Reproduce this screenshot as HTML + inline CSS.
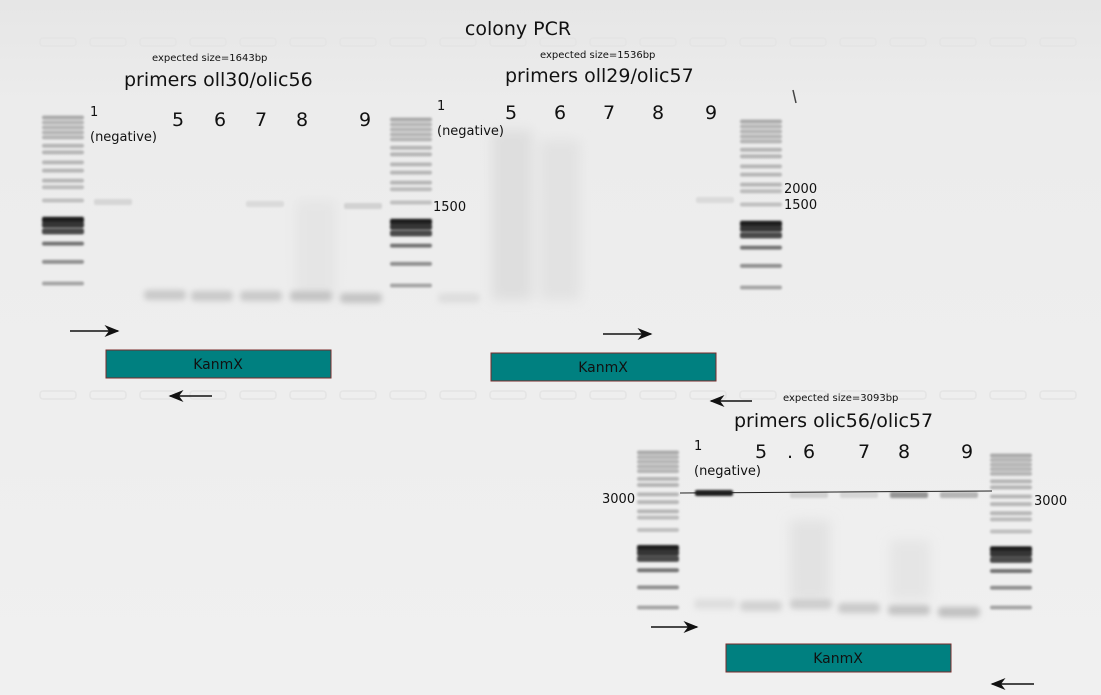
<!DOCTYPE html>
<html><head><meta charset="utf-8"><style>
html,body{margin:0;padding:0;background:#eeeeee;}
svg{display:block;font-family:"DejaVu Sans","Liberation Sans",sans-serif;}
</style></head><body>
<svg id="gel" width="1101" height="695" viewBox="0 0 1101 695" xmlns="http://www.w3.org/2000/svg">
<defs>
<filter id="blur1"><feGaussianBlur stdDeviation="1"/></filter>
<filter id="blur3"><feGaussianBlur stdDeviation="3"/></filter>
<filter id="blur6"><feGaussianBlur stdDeviation="6"/></filter>
<linearGradient id="bg" x1="0" y1="0" x2="0" y2="1"><stop offset="0" stop-color="#e6e6e6"/><stop offset="0.15" stop-color="#ececec"/><stop offset="1" stop-color="#f0f0f0"/></linearGradient>
<marker id="ah" markerWidth="10" markerHeight="8" refX="9" refY="4" orient="auto"><path d="M0,0 L10,4 L0,8 L3,4 Z" fill="#111"/></marker>
</defs>
<rect width="1101" height="695" fill="url(#bg)"/>
<g id="wells"></g>
<g id="vsmears" filter="url(#blur6)"></g>
<g id="ladders" filter="url(#blur1)"></g>
<g id="bands" filter="url(#blur1)"></g>
<g id="smears" filter="url(#blur3)"></g>

<text x="518" y="35" font-size="19" text-anchor="middle" fill="#111">colony PCR</text>
<text x="152" y="61" font-size="10" fill="#111">expected size=1643bp</text>
<text x="124" y="86" font-size="19" fill="#111">primers oll30/olic56</text>
<text x="540" y="58" font-size="10" fill="#111">expected size=1536bp</text>
<text x="505" y="82" font-size="19" fill="#111">primers oll29/olic57</text>
<text x="783" y="401" font-size="10" fill="#111">expected size=3093bp</text>
<text x="734" y="427" font-size="19" fill="#111">primers olic56/olic57</text>

<g fill="#111">
<text x="90" y="116" font-size="13">1</text><text x="90" y="141" font-size="13">(negative)</text>
<text x="172" y="126" font-size="19">5</text><text x="214" y="126" font-size="19">6</text><text x="255" y="126" font-size="19">7</text><text x="296" y="126" font-size="19">8</text><text x="359" y="126" font-size="19">9</text>
</g>
<g fill="#111">
<text x="437" y="110" font-size="13">1</text><text x="437" y="135" font-size="13">(negative)</text>
<text x="505" y="119" font-size="19">5</text><text x="554" y="119" font-size="19">6</text><text x="603" y="119" font-size="19">7</text><text x="652" y="119" font-size="19">8</text><text x="705" y="119" font-size="19">9</text>
</g>
<g fill="#111">
<text x="694" y="450" font-size="13">1</text><text x="694" y="475" font-size="13">(negative)</text>
<text x="755" y="458" font-size="19">5</text><text x="787" y="458" font-size="19">.</text><text x="803" y="458" font-size="19">6</text><text x="858" y="458" font-size="19">7</text><text x="898" y="458" font-size="19">8</text><text x="961" y="458" font-size="19">9</text>
</g>
<g fill="#111" font-size="13">
<text x="433" y="211">1500</text>
<text x="784" y="193">2000</text><text x="784" y="209">1500</text>
<text x="602" y="503">3000</text><text x="1034" y="505">3000</text>
</g>
<line x1="680" y1="493" x2="992" y2="491" stroke="#222" stroke-width="1"/>

<g><rect x="106" y="350" width="225" height="28" fill="#008080" stroke="#7a2a2a"/><text x="218" y="369" font-size="14" text-anchor="middle" fill="#111">KanmX</text></g>
<g><rect x="491" y="353" width="225" height="28" fill="#008080" stroke="#7a2a2a"/><text x="603" y="372" font-size="14" text-anchor="middle" fill="#111">KanmX</text></g>
<g><rect x="726" y="644" width="225" height="28" fill="#008080" stroke="#7a2a2a"/><text x="838" y="663" font-size="14" text-anchor="middle" fill="#111">KanmX</text></g>

<g stroke="#111" stroke-width="1.5" marker-end="url(#ah)">
<line x1="70" y1="331" x2="118" y2="331"/><line x1="212" y1="396" x2="170" y2="396"/>
<line x1="603" y1="334" x2="651" y2="334"/><line x1="752" y1="401" x2="711" y2="401"/>
<line x1="651" y1="627" x2="697" y2="627"/><line x1="1034" y1="684" x2="992" y2="684"/>
</g>
<path d="M793,90 L796,103" stroke="#444" stroke-width="1.5"/>
</svg>
<script>
var NS='http://www.w3.org/2000/svg';
// ladder band relative positions (fraction of ladder span) and intensities
var ladderFrac=[0,0.03,0.06,0.09,0.12,0.17,0.21,0.27,0.32,0.38,0.42,0.50,0.61,0.64,0.68,0.76,0.87,1.0];
var ladderInt=[0.3,0.25,0.25,0.25,0.25,0.25,0.25,0.24,0.24,0.24,0.22,0.2,0.95,0.85,0.75,0.55,0.42,0.32];
var ladderX=[42,390,740,637,990];
var ladderTop=[118,120,122,453,456];
var ladderSpan=[166,166,166,155,152];
// product bands: lane x, y, intensity
var bandX=[94,246,344,696,695,790,840,890,940];
var bandY=[202,204,206,200,493,495,495,495,495];
var bandInt=[0.1,0.08,0.12,0.08,0.95,0.12,0.1,0.4,0.25];
// primer dimer smears at lane bottoms
var smearX=[146,193,242,292,342,440,696,742,792,840,890,940];
var smearY=[295,296,296,296,298,298,604,606,604,608,610,612];
var smearInt=[0.16,0.16,0.16,0.18,0.18,0.06,0.06,0.12,0.14,0.16,0.18,0.2];
// faint vertical lane smears: x, top, bottom, intensity
var vX=[492,540,296,790,890];
var vTop=[130,140,200,520,540];
var vBot=[300,300,300,600,600];
var vInt=[0.06,0.04,0.03,0.04,0.03];
var wellRowY=[42,395];

function gid(id){return document.getElementById(id);}
function mk(tag,attrs,parent){var e=document.createElementNS(NS,tag);for(var k in attrs)e.setAttribute(k,attrs[k]);parent.appendChild(e);return e;}
function grey(i){var v=Math.round(235-215*i);return 'rgb('+v+','+v+','+v+')';}

for(var r=0;r<wellRowY.length;r++){
  for(var x=40;x<1060;x+=50){
    var w=mk('rect',{x:x,y:wellRowY[r]-4,width:36,height:8,rx:3,fill:'none',stroke:'#e4e4e4','stroke-width':1.5},gid('wells'));
    
    
  }
}
for(var v=0;v<vX.length;v++){
  var vs=mk('rect',{x:vX[v],y:vTop[v],width:40,height:vBot[v]-vTop[v],fill:grey(vInt[v])},gid('vsmears'));
  
  
}
for(var l=0;l<ladderX.length;l++){
  var lg=mk('g',{},gid('ladders'));
  
  
  for(var b=0;b<ladderFrac.length;b++){
    var y=ladderTop[l]+ladderFrac[b]*ladderSpan[l];
    var rr=mk('rect',{x:ladderX[l],y:y-2.5,width:42,height:ladderInt[b]>0.7?6:4,rx:2,fill:grey(ladderInt[b])},lg);
    
    
  }
}
for(var i=0;i<bandX.length;i++){
  var bd=mk('rect',{x:bandX[i],y:bandY[i]-3,width:38,height:6,rx:2,fill:grey(bandInt[i])},gid('bands'));
  
  
}
for(var s=0;s<smearX.length;s++){
  var sm=mk('rect',{x:smearX[s]-2,y:smearY[s]-5,width:42,height:10,rx:4,fill:grey(smearInt[s])},gid('smears'));
  
  
}
</script>
</body></html>
